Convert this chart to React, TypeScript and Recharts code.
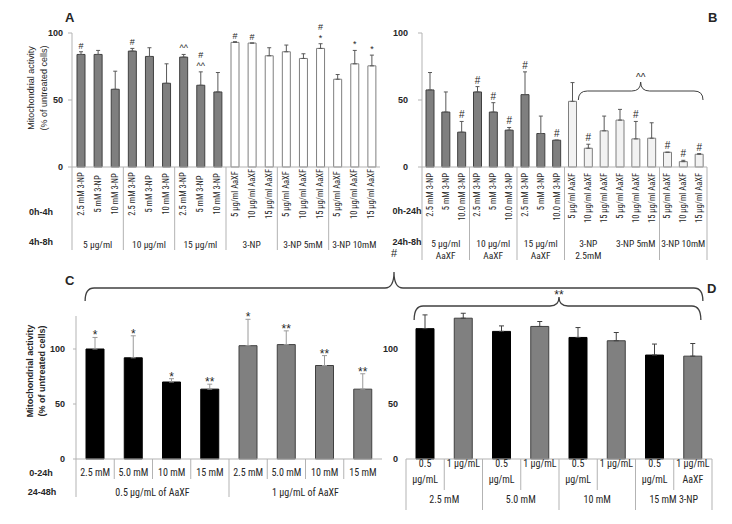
import React from 'react'
import { BarChart, Bar, XAxis, YAxis, ErrorBar, Cell, LabelList } from 'recharts'

const FONT = '"Liberation Sans Narrow", "Roboto Condensed", Roboto, sans-serif'
const BOLD = '"Liberation Sans", Arial, sans-serif'
const INK = '#262626'
const GRID = '#b3b3b3'

// A: treatment 0h-4h, then 4h-8h
const catsA = [
  '2.5 mM 3-NP', '5 mM 3-NP', '10 mM 3-NP',
  '2.5 mM 3-NP', '5 mM 3-NP', '10 mM 3-NP',
  '2.5 mM 3-NP', '5 mM 3-NP', '10 mM 3-NP',
  '5 µg/ml AaXF', '10 µg/ml AaXF', '15 µg/ml AaXF',
  '5 µg/ml AaXF', '10 µg/ml AaXF', '15 µg/ml AaXF',
  '5 µg/ml AaXF', '10 µg/ml AaXF', '15 µg/ml AaXF',
]
const groupsA = ['5 µg/ml', '10 µg/ml', '15 µg/ml', '3-NP', '3-NP    5mM', '3-NP 10mM']
const meanA = [84, 84, 58, 86.5, 82.5, 62.5, 82, 61, 56, 93, 92.5, 83, 86, 81, 88.5, 65.5, 77, 75.5]
const sdA = [2, 3, 13.5, 2, 6.5, 14.5, 2, 10, 14.5, 0.5, 0, 6, 5, 3.5, 3.5, 3.5, 10, 8]
const sigA = ['#', '', '', '#', '', '', '^^', '#\n^^', '', '#', '#', '', '', '', '#\n*', '', '*', '*']

// B: treatment 0h-24h, then 24h-8h
const catsB = [
  '2.5 mM 3-NP', '5 mM 3-NP', '10.0 mM 3-NP',
  '2.5 mM 3-NP', '5 mM 3-NP', '10.0 mM 3-NP',
  '2.5 mM 3-NP', '5 mM 3-NP', '10.0 mM 3-NP',
  '5 µg/ml AaXF', '10 µg/ml AaXF', '15 µg/ml AaXF',
  '5 µg/ml AaXF', '10 µg/ml AaXF', '15 µg/ml AaXF',
  '5 µg/ml AaXF', '10 µg/ml AaXF', '15 µg/ml AaXF',
]
const groupsB = ['5 µg/ml\nAaXF', '10 µg/ml\nAaXF', '15 µg/ml\nAaXF', '3-NP\n2.5mM', '3-NP  5mM', '3-NP 10mM']
const meanB = [57.5, 41, 26, 56, 41, 27.5, 54, 25, 20, 49, 14, 27, 35, 21, 21.5, 11, 4, 9.5]
const sdB = [13, 15, 8, 4, 7, 2, 17, 13, 0, 14, 3, 11, 8, 13, 11.5, 0, 1, 0.5]
const sigB = ['', '', '#', '#', '#', '#', '#', '', '#', '', '#', '', '', '#', '', '#', '#', '#']

// C: 0-24h 3-NP, 24-48h AaXF
const catsC = ['2.5 mM', '5.0 mM', '10 mM', '15 mM', '2.5 mM', '5.0 mM', '10 mM', '15 mM']
const groupsC = ['0.5 µg/mL of AaXF', '1 µg/mL of AaXF']
const meanC = [100, 92, 70, 63.5, 103, 104, 85, 63.5]
const sdC = [10.5, 20, 3, 4.5, 24, 12.5, 9, 14]
const sigC = ['*', '*', '*', '**', '*', '**', '**', '**']

// D
const catsD = ['0.5\nµg/mL', '1 µg/mL', '0.5\nµg/mL', '1 µg/mL', '0.5\nµg/mL', '1 µg/mL', '0.5\nµg/mL', '1 µg/mL\nAaXF']
const groupsD = ['2.5 mM', '5.0 mM', '10 mM', '15 mM 3-NP']
const meanD = [118.5, 128, 116, 120.5, 110.5, 107.5, 94.5, 93.5]
const sdD = [12.5, 4.5, 5, 4.5, 9, 7.5, 10, 11.5]

type Layout = { left: number; top: number; w: number; h: number; mt: number; plotH: number; yw: number; mr: number; n: number }
const LA: Layout = { left: 0, top: 0, w: 385, h: 260, mt: 33, plotH: 134, yw: 72, mr: 5, n: 18 }
const LB: Layout = { left: 385, top: 0, w: 347, h: 260, mt: 33, plotH: 134, yw: 37, mr: 25, n: 18 }
const LC: Layout = { left: 0, top: 296, w: 390, h: 228, mt: 20, plotH: 143, yw: 76, mr: 8, n: 8 }
const LD: Layout = { left: 370, top: 285, w: 362, h: 239, mt: 20, plotH: 154, yw: 36, mr: 20, n: 8 }

const plotL = (l: Layout) => l.left + l.yw
const plotW = (l: Layout) => l.w - l.yw - l.mr
const band = (l: Layout) => plotW(l) / l.n

const rows = (mean: number[], sd: number[], sig: string[]) =>
  mean.map((v, i) => ({
    id: `c${i}`,
    v,
    err: [0, sd[i]],
    tag: sig[i] ? `${sig[i]}|${sd[i]}|${v}` : '',
  }))

interface TickOpts {
  labels: string[]
  band: number
  rotate?: 'center' | 'top'
  catDy: number
  lineH: number
  groups: string[]
  groupSize: number
  groupDy: number
  catSep: number
  groupSep: number
  skipSep?: number[]
  closeRight?: boolean
  fontSize: number
  groupFontSize: number
}

function AxisTick(props: any) {
  const { x, y, payload } = props
  const opts: TickOpts = props.opts
  const i: number = props.index ?? payload?.index ?? 0
  const half = opts.band / 2
  const out: React.ReactNode[] = []
  const lab = opts.labels[i] ?? ''

  if (opts.rotate) {
    const ay = y + opts.catDy
    out.push(
      <text key="c" x={x} y={ay} transform={`rotate(-90 ${x} ${ay})`}
        textAnchor={opts.rotate === 'top' ? 'end' : 'middle'} dominantBaseline="central"
        fontSize={opts.fontSize} fill={INK} fontFamily={FONT}>{lab}</text>
    )
  } else {
    lab.split('\n').forEach((ln, k) => out.push(
      <text key={'c' + k} x={x} y={y + opts.catDy + k * opts.lineH} textAnchor="middle"
        dominantBaseline="central" fontSize={opts.fontSize} fill={INK} fontFamily={FONT}>{ln}</text>
    ))
  }

  const n = opts.labels.length
  const bound = (b: number, xx: number) => {
    if (opts.skipSep && opts.skipSep.includes(b)) return
    if (b % opts.groupSize === 0) {
      out.push(<line key={'s' + b} x1={xx} x2={xx} y1={y} y2={y + opts.groupSep} stroke={GRID} />)
    } else if (opts.catSep) {
      out.push(<line key={'s' + b} x1={xx} x2={xx} y1={y} y2={y + opts.catSep} stroke={GRID} />)
    }
  }
  bound(i, x - half)
  if (i === n - 1 && opts.closeRight) bound(n, x + half)

  if (i % opts.groupSize === 0) {
    const gx = x - half + opts.groupSize * half
    const g = opts.groups[i / opts.groupSize] ?? ''
    g.split('\n').forEach((ln, k) => out.push(
      <text key={'g' + k} x={gx} y={y + opts.groupDy + k * 12} textAnchor="middle"
        dominantBaseline="central" fontSize={opts.groupFontSize} fill={INK} fontFamily={FONT}>{ln}</text>
    ))
  }
  return <g>{out}</g>
}

// significance marks sit just above the top of each error bar
const sigLabel = (fs: number, lh: number, dy: number) => (p: any) => {
  const vb = p.viewBox ?? p
  const raw = String(p.value ?? '')
  if (!raw) return null
  const [txt, sd, mean] = raw.split('|')
  const per = Math.abs(vb.height) / Number(mean)
  const top = vb.y - Number(sd) * per
  const lines = txt.split('\n')
  const cx = vb.x + vb.width / 2
  return (
    <text x={cx} y={top + dy - (lines.length - 1) * lh} textAnchor="middle" fontSize={fs} fill={INK} fontFamily={BOLD}>
      {lines.map((ln, k) => (
        <tspan key={k} x={cx} dy={k === 0 ? 0 : lh}>{ln}</tspan>
      ))}
    </text>
  )
}

const yTick = { fontSize: 9, fontWeight: 700, fill: INK, fontFamily: BOLD }

const Panel = ({ l, children }: { l: Layout; children: React.ReactNode }) => (
  <div style={{ position: 'absolute', left: l.left, top: l.top, width: l.w, height: l.h }}>
    {children}
  </div>
)

const brace = (x1: number, x2: number, xm: number, yEnd: number, yLine: number, yTip: number) => {
  const r = 9
  return `M${x1},${yEnd} Q${x1},${yLine} ${x1 + r},${yLine} L${xm - r},${yLine} Q${xm},${yLine} ${xm},${yTip} ` +
    `Q${xm},${yLine} ${xm + r},${yLine} L${x2 - r},${yLine} Q${x2},${yLine} ${x2},${yEnd}`
}

export default function App() {
  const dataA = rows(meanA, sdA, sigA)
  const dataB = rows(meanB, sdB, sigB)
  const dataC = rows(meanC, sdC, sigC)
  const dataD = rows(meanD, sdD, meanD.map(() => ''))

  const optsA: TickOpts = {
    labels: catsA, band: band(LA), rotate: 'center', catDy: 27, lineH: 0,
    groups: groupsA, groupSize: 3, groupDy: 77, catSep: 0, groupSep: 83,
    fontSize: 8.5, groupFontSize: 9.5,
  }
  const optsB: TickOpts = {
    labels: catsB, band: band(LB), rotate: 'top', catDy: 6, lineH: 0,
    groups: groupsB, groupSize: 3, groupDy: 76, catSep: 0, groupSep: 93,
    skipSep: [12], closeRight: true, fontSize: 8.5, groupFontSize: 9.5,
  }
  const optsC: TickOpts = {
    labels: catsC, band: band(LC), catDy: 13, lineH: 12,
    groups: groupsC, groupSize: 4, groupDy: 33, catSep: 20, groupSep: 38,
    fontSize: 10, groupFontSize: 10,
  }
  const optsD: TickOpts = {
    labels: catsD, band: band(LD), catDy: 4, lineH: 16,
    groups: groupsD, groupSize: 2, groupDy: 40, catSep: 31, groupSep: 51,
    closeRight: true, fontSize: 10, groupFontSize: 10,
  }

  // brace geometry follows the panel layouts
  const bigX1 = plotL(LC) + band(LC) / 2 - 10
  const bigX2 = plotL(LD) + plotW(LD) - band(LD) / 2 + 10
  const bigXm = (plotL(LC) + plotL(LD) + plotW(LD)) / 2
  const dX1 = plotL(LD) + band(LD) / 2 - 11
  const dX2 = bigX2 - 2
  const dXm = plotL(LD) + plotW(LD) / 2
  const bX1 = plotL(LB) + 10 * band(LB) - 2
  const bX2 = plotL(LB) + plotW(LB) - 4
  const bXm = (bX1 + bX2) / 2

  return (
    <div style={{ position: 'absolute', left: 0, top: 0, width: 732, height: 524, background: '#fff', overflow: 'hidden' }}>
      <Panel l={LA}>
        <BarChart width={LA.w} height={LA.h} data={dataA} margin={{ top: LA.mt, right: LA.mr, bottom: 0, left: 0 }}>
          <YAxis width={LA.yw} domain={[0, 100]} ticks={[0, 50, 100]} tick={yTick} tickSize={4} tickMargin={5}
            axisLine={{ stroke: GRID }} tickLine={{ stroke: GRID }} />
          <XAxis dataKey="id" interval={0} height={LA.h - LA.mt - LA.plotH} tickSize={0} tickMargin={0}
            tickLine={false} axisLine={{ stroke: GRID }} tick={(p: any) => <AxisTick {...p} opts={optsA} />} />
          <Bar dataKey="v" barSize={8} isAnimationActive={false}>
            {dataA.map((_, i) => (
              <Cell key={i} fill={i < 9 ? '#7f7f7f' : '#ffffff'} stroke={i < 9 ? '#404040' : '#7f7f7f'} strokeWidth={1} />
            ))}
            <ErrorBar dataKey="err" width={2} stroke="#595959" strokeWidth={1} direction="y" isAnimationActive={false} />
            <LabelList dataKey="tag" content={sigLabel(9, 10.5, -3)} />
          </Bar>
        </BarChart>
      </Panel>

      <Panel l={LB}>
        <BarChart width={LB.w} height={LB.h} data={dataB} margin={{ top: LB.mt, right: LB.mr, bottom: 0, left: 0 }}>
          <YAxis width={LB.yw} domain={[0, 100]} ticks={[0, 50, 100]} tick={yTick} tickSize={4} tickMargin={10}
            axisLine={{ stroke: GRID }} tickLine={{ stroke: GRID }} />
          <XAxis dataKey="id" interval={0} height={LB.h - LB.mt - LB.plotH} tickSize={0} tickMargin={0}
            tickLine={false} axisLine={{ stroke: GRID }} tick={(p: any) => <AxisTick {...p} opts={optsB} />} />
          <Bar dataKey="v" barSize={8} isAnimationActive={false}>
            {dataB.map((_, i) => (
              <Cell key={i} fill={i < 9 ? '#7f7f7f' : '#f2f2f2'} stroke={i < 9 ? '#404040' : '#7f7f7f'} strokeWidth={1} />
            ))}
            <ErrorBar dataKey="err" width={2} stroke="#595959" strokeWidth={1} direction="y" isAnimationActive={false} />
            <LabelList dataKey="tag" content={sigLabel(10, 10, -3)} />
          </Bar>
        </BarChart>
      </Panel>

      <Panel l={LC}>
        <BarChart width={LC.w} height={LC.h} data={dataC} margin={{ top: LC.mt, right: LC.mr, bottom: 0, left: 0 }}>
          <YAxis width={LC.yw} domain={[0, 130]} ticks={[0, 50, 100]} tick={yTick} tickSize={3} tickMargin={8}
            axisLine={{ stroke: GRID }} tickLine={{ stroke: GRID }} />
          <XAxis dataKey="id" interval={0} height={LC.h - LC.mt - LC.plotH} tickSize={0} tickMargin={0}
            tickLine={false} axisLine={{ stroke: GRID }} tick={(p: any) => <AxisTick {...p} opts={optsC} />} />
          <Bar dataKey="v" barSize={18} isAnimationActive={false}>
            {dataC.map((_, i) => (
              <Cell key={i} fill={i < 4 ? '#000000' : '#808080'} stroke={i < 4 ? '#000000' : '#404040'} strokeWidth={1} />
            ))}
            <ErrorBar dataKey="err" width={2.5} stroke="#9a9a9a" strokeWidth={1} direction="y" isAnimationActive={false} />
            <LabelList dataKey="tag" content={sigLabel(12, 10, 2)} />
          </Bar>
        </BarChart>
      </Panel>

      <Panel l={LD}>
        <BarChart width={LD.w} height={LD.h} data={dataD} margin={{ top: LD.mt, right: LD.mr, bottom: 0, left: 0 }}>
          <YAxis width={LD.yw} domain={[0, 140]} ticks={[0, 50, 100]} tick={yTick} tickSize={0} tickMargin={8}
            axisLine={false} tickLine={false} />
          <XAxis dataKey="id" interval={0} height={LD.h - LD.mt - LD.plotH} tickSize={0} tickMargin={0}
            tickLine={false} axisLine={{ stroke: GRID }} tick={(p: any) => <AxisTick {...p} opts={optsD} />} />
          <Bar dataKey="v" barSize={18} isAnimationActive={false}>
            {dataD.map((_, i) => (
              <Cell key={i} fill={i % 2 === 0 ? '#000000' : '#808080'} stroke={i % 2 === 0 ? '#000000' : '#404040'} strokeWidth={1} />
            ))}
            <ErrorBar dataKey="err" width={2.5} stroke="#404040" strokeWidth={1} direction="y" isAnimationActive={false} />
          </Bar>
        </BarChart>
      </Panel>

      <svg width={732} height={524} style={{ position: 'absolute', left: 0, top: 0, pointerEvents: 'none' }}>
        <g fontFamily={BOLD} fill={INK} fontWeight={700}>
          <text x={65} y={22} fontSize={13}>A</text>
          <text x={708} y={22} fontSize={13}>B</text>
          <text x={65} y={285} fontSize={13}>C</text>
          <text x={707} y={293} fontSize={13}>D</text>
          <text x={41} y={212} fontSize={9} textAnchor="middle" dominantBaseline="central">0h-4h</text>
          <text x={41} y={242} fontSize={9} textAnchor="middle" dominantBaseline="central">4h-8h</text>
          <text x={407} y={211} fontSize={9} textAnchor="middle" dominantBaseline="central">0h-24h</text>
          <text x={407} y={242} fontSize={9} textAnchor="middle" dominantBaseline="central">24h-8h</text>
          <text x={41} y={473} fontSize={9} textAnchor="middle" dominantBaseline="central">0-24h</text>
          <text x={42} y={492} fontSize={9} textAnchor="middle" dominantBaseline="central">24-48h</text>
        </g>
        <g fontFamily={BOLD} fill={INK} fontSize={9} textAnchor="middle" dominantBaseline="central">
          <text transform="rotate(-90 31 88)" x={31} y={88} fontWeight={400}>Mitochondrial activity</text>
          <text transform="rotate(-90 44 88)" x={44} y={88} fontWeight={400}>(% of untreated cells)</text>
          <text transform="rotate(-90 30 371)" x={30} y={371} fontWeight={700}>Mitochondrial activity</text>
          <text transform="rotate(-90 42 371)" x={42} y={371} fontWeight={700}>(% of untreated cells)</text>
        </g>
        <g fill="none" stroke="#404040" strokeWidth={1.3}>
          <path d={brace(bigX1, bigX2, bigXm, 301, 288, 272)} />
          <path d={brace(dX1, dX2, dXm, 320, 306, 297)} />
          <path d={brace(bX1, bX2, bXm, 100, 91, 82)} strokeWidth={1} />
        </g>
        <g fontFamily={BOLD} fill={INK} textAnchor="middle">
          <text x={bigXm} y={257} fontSize={11}>#</text>
          <text x={dXm} y={299} fontSize={12}>**</text>
          <text x={bXm} y={81} fontSize={10}>^^</text>
        </g>
      </svg>
    </div>
  )
}
